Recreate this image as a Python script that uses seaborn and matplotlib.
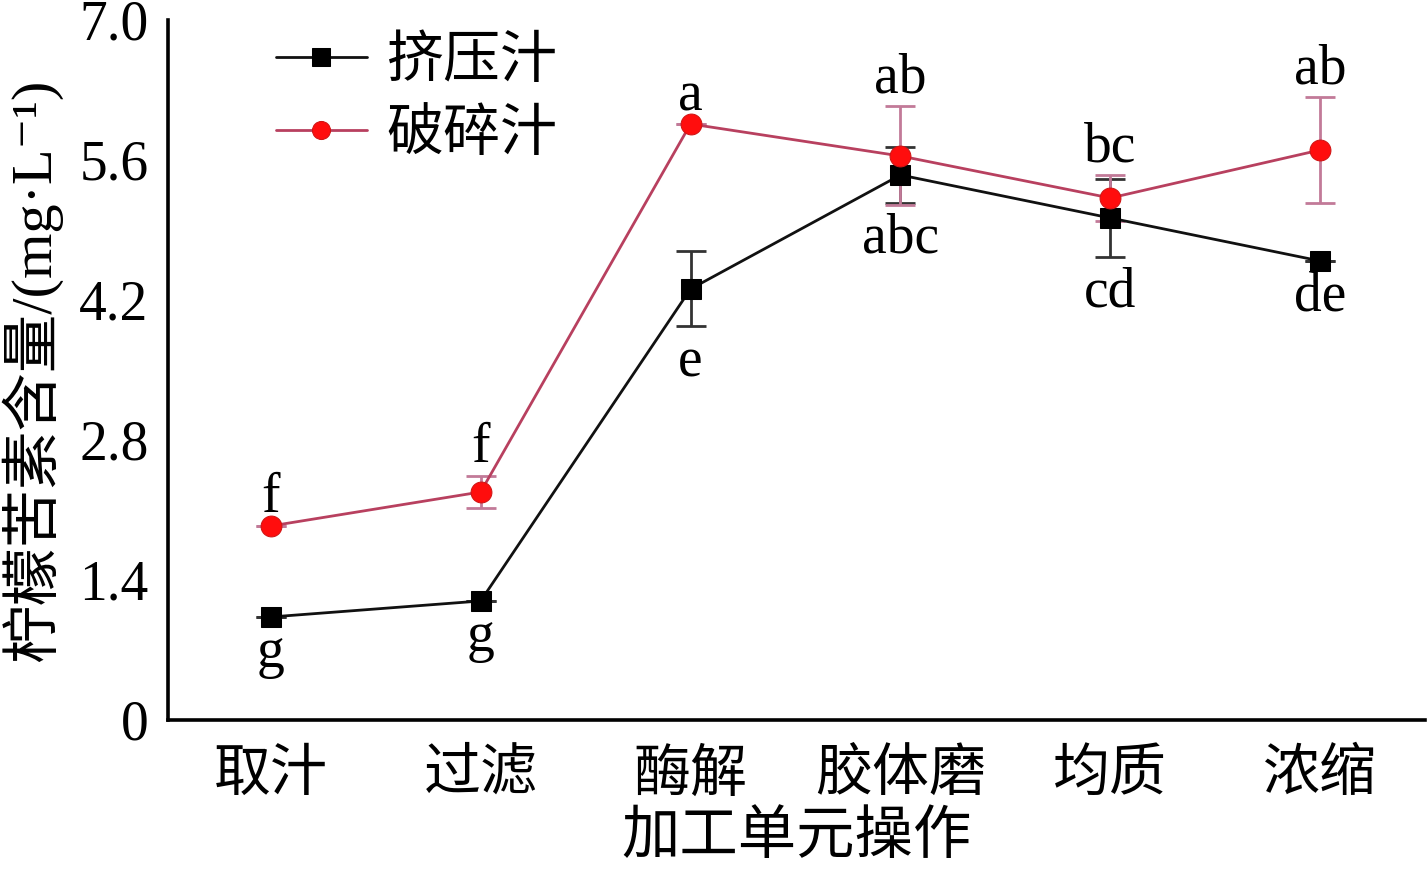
import matplotlib
matplotlib.use("Agg")
import matplotlib.pyplot as plt
import seaborn as sns
import pandas as pd
import numpy as np

# ---- data ----
categories = ['取汁', '过滤', '酶解', '胶体磨', '均质', '浓缩']
squeeze_vals = [1.03, 1.19, 4.31, 5.45, 5.02, 4.59]
squeeze_err = [0.0, 0.0, 0.375, 0.28, 0.39, 0.0]
crush_vals = [1.94, 2.28, 5.96, 5.64, 5.22, 5.70]
crush_err = [0.0, 0.16, 0.0, 0.495, 0.23, 0.53]
squeeze_letters = ['g', 'g', 'e', 'abc', 'cd', 'de']
crush_letters = ['f', 'f', 'a', 'ab', 'bc', 'ab']
series_names = ['挤压汁', '破碎汁']
yticks = [0, 1.4, 2.8, 4.2, 5.6, 7.0]
ytick_labels = ['0', '1.4', '2.8', '4.2', '5.6', '7.0']

sns.set_theme(style='white')
plt.rcParams['font.family'] = ['Liberation Serif', 'Noto Sans CJK SC', 'DejaVu Sans']
plt.rcParams['text.color'] = 'black'
plt.rcParams['axes.labelcolor'] = 'black'
plt.rcParams['xtick.color'] = 'black'
plt.rcParams['ytick.color'] = 'black'

df = pd.DataFrame({
    'cat': categories * 2,
    'val': squeeze_vals + crush_vals,
    'series': [series_names[0]] * 6 + [series_names[1]] * 6,
})

fig = plt.figure(figsize=(14.28, 8.69), dpi=100)
ax = fig.add_axes([0.1176, 0.1715, 0.8804, 0.8055])

x = np.arange(len(categories))
black = '#111111'
redline = '#b8405f'
rederr = '#c27a98'

ax.errorbar(x, squeeze_vals, yerr=squeeze_err, fmt='none', ecolor='#333333',
            elinewidth=2, capsize=11, capthick=2, zorder=2)
ax.errorbar(x, crush_vals, yerr=crush_err, fmt='none', ecolor=rederr,
            elinewidth=2, capsize=11, capthick=2, zorder=2)

sns.lineplot(data=df, x='cat', y='val', hue='series', style='series',
             palette={series_names[0]: black, series_names[1]: redline},
             markers={series_names[0]: 's', series_names[1]: 'o'},
             dashes=False, linewidth=2, markersize=15, ax=ax, zorder=3,
             sort=False)

for l in ax.get_lines():
    if l.get_marker() == 's':
        l.set_markerfacecolor('#000000'); l.set_markeredgecolor('#000000')
    elif l.get_marker() == 'o':
        l.set_markerfacecolor('#ff0d0d'); l.set_markeredgecolor('#d01515')

fs = 40
for i in range(len(categories)):
    ax.annotate(crush_letters[i], (x[i], crush_vals[i] + crush_err[i]),
                xytext=(0, 10), textcoords='offset points', ha='center',
                va='baseline', fontsize=fs, color='black')
    ax.annotate(squeeze_letters[i], (x[i], squeeze_vals[i] - squeeze_err[i]),
                xytext=(0, -36), textcoords='offset points', ha='center',
                va='baseline', fontsize=fs, color='black')

ax.set_xlim(-0.49, 5.5)
ax.set_ylim(0, 7.0)
ax.set_yticks(yticks)
ax.set_yticklabels(ytick_labels, fontsize=fs)
ax.set_xticks(x)
ax.set_xticklabels(categories, fontsize=41)
ax.tick_params(axis='y', length=0, pad=14)
ax.tick_params(axis='x', direction='in', length=14, width=2.4, color='black', pad=21)

for s in ['top', 'right']:
    ax.spines[s].set_visible(False)
for s in ['left', 'bottom']:
    ax.spines[s].set_color('black')
    ax.spines[s].set_linewidth(2.6)

ax.set_xlabel('加工单元操作', fontsize=42, labelpad=6)
ax.set_ylabel('柠檬苦素含量/(mg·L⁻¹)', fontsize=42, labelpad=12)

handles, labels = ax.get_legend_handles_labels()
leg = ax.legend(handles, labels, loc='upper left', bbox_to_anchor=(0.045, 1.05),
                frameon=False, fontsize=41, handlelength=1.6, handletextpad=0.35,
                labelspacing=0.35)
for h in leg.legend_handles:
    h.set_markersize(13)
    if h.get_marker() == 's':
        h.set_markerfacecolor('#000000'); h.set_markeredgecolor('#000000')
    else:
        h.set_markerfacecolor('#ff0d0d'); h.set_markeredgecolor('#d01515')

fig.savefig('out.png', dpi=100)
